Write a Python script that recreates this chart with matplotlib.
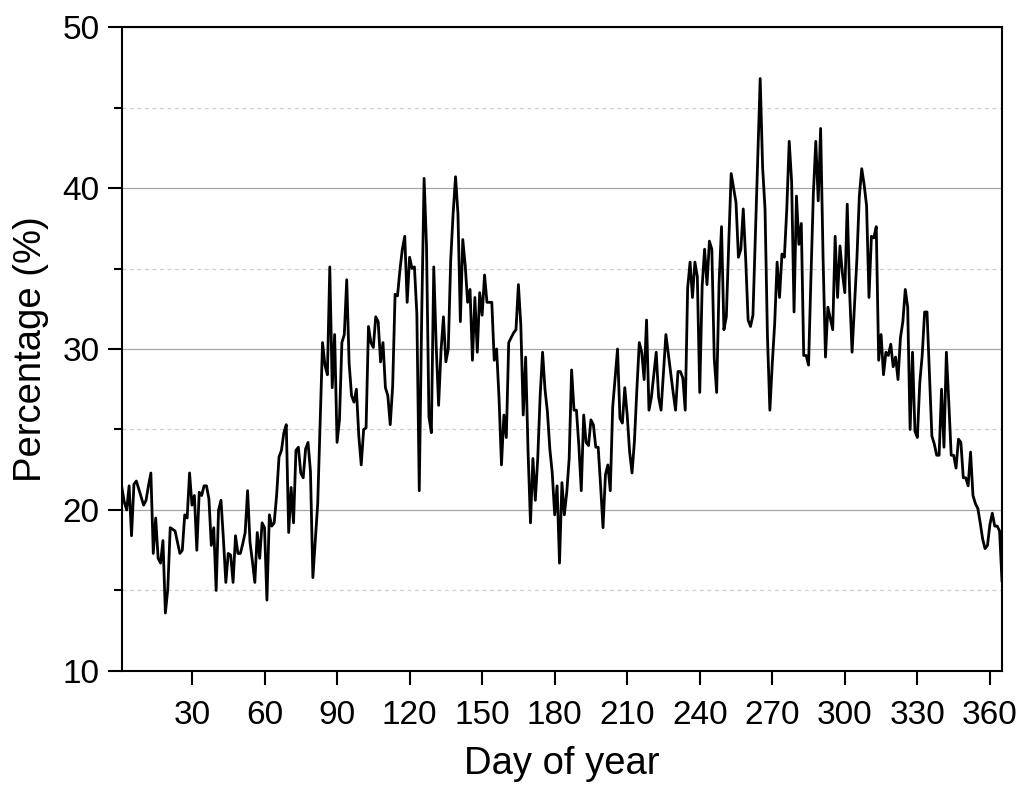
import numpy as np
import matplotlib
matplotlib.use("Agg")
import matplotlib.pyplot as plt
from matplotlib.ticker import MultipleLocator

# daily share (%) for day 1..365
pct = [
    21.4, 20.5, 20.0, 21.5, 18.4, 21.6, 21.8, 21.3, 20.8, 20.3,
    20.6, 21.5, 22.3, 17.3, 19.5, 17.0, 16.7, 18.1, 13.6, 15.1,
    18.9, 18.8, 18.7, 18.0, 17.3, 17.5, 19.7, 19.5, 22.3, 20.3,
    20.9, 17.5, 21.1, 20.9, 21.5, 21.5, 20.7, 17.8, 18.9, 15.0,
    20.0, 20.6, 18.2, 15.5, 17.3, 17.2, 15.5, 18.4, 17.3, 17.3,
    17.9, 18.6, 21.2, 18.0, 16.8, 15.5, 18.6, 17.0, 19.2, 18.9,
    14.4, 19.7, 19.0, 19.2, 20.9, 23.3, 23.7, 24.8, 25.3, 18.6,
    21.4, 19.2, 23.7, 23.9, 22.3, 22.0, 23.8, 24.2, 22.4, 15.8,
    18.1, 20.4, 25.4, 30.4, 29.0, 28.4, 35.1, 27.6, 30.9, 24.2,
    25.6, 30.4, 30.9, 34.3, 29.1, 27.1, 26.7, 27.5, 24.6, 22.8,
    25.0, 25.1, 31.4, 30.4, 30.1, 32.0, 31.7, 29.2, 30.4, 27.6,
    27.1, 25.3, 27.7, 33.4, 33.3, 34.9, 36.2, 37.0, 32.9, 35.7,
    35.0, 35.1, 32.2, 21.2, 32.0, 40.6, 36.4, 25.8, 24.8, 35.1,
    30.2, 26.5, 29.9, 32.0, 29.2, 30.0, 35.5, 38.4, 40.7, 38.4,
    31.7, 36.8, 35.2, 32.9, 33.7, 29.3, 33.2, 29.8, 33.5, 32.1,
    34.6, 32.9, 32.9, 32.9, 29.3, 30.0, 26.9, 22.8, 25.9, 24.5,
    30.4, 30.7, 31.0, 31.2, 34.0, 31.5, 25.9, 29.5, 23.6, 19.2,
    23.2, 20.6, 23.2, 27.1, 29.8, 27.5, 26.1, 23.8, 22.3, 19.7,
    21.5, 16.7, 21.7, 19.7, 21.1, 23.2, 28.7, 26.2, 26.2, 24.0,
    21.2, 25.9, 24.2, 24.0, 25.6, 25.3, 23.9, 23.9, 21.5, 18.9,
    22.2, 22.8, 21.2, 26.4, 28.2, 30.0, 25.7, 25.4, 27.6, 25.9,
    23.6, 22.3, 24.3, 27.5, 30.4, 29.8, 28.1, 31.8, 26.2, 27.0,
    28.4, 29.8, 27.0, 26.2, 28.5, 30.9, 29.7, 28.5, 27.3, 26.2,
    28.6, 28.6, 28.2, 26.2, 33.8, 35.4, 33.2, 35.4, 34.5, 27.3,
    33.9, 36.2, 34.0, 36.7, 36.2, 29.4, 27.3, 34.1, 37.6, 31.2,
    32.0, 36.6, 40.9, 40.0, 39.1, 35.7, 36.2, 38.7, 35.6, 31.8,
    31.4, 32.1, 37.0, 42.0, 46.8, 41.3, 38.7, 30.8, 26.2, 29.1,
    31.6, 35.4, 33.2, 35.9, 35.7, 38.7, 42.9, 40.4, 32.3, 39.5,
    36.5, 37.8, 29.6, 29.6, 29.0, 34.5, 39.7, 42.9, 39.2, 43.7,
    35.7, 29.5, 32.6, 31.9, 31.2, 37.0, 33.2, 36.4, 34.7, 33.5,
    39.0, 33.5, 29.8, 32.7, 35.6, 39.5, 41.2, 40.2, 38.9, 33.2,
    37.0, 36.9, 37.6, 29.3, 30.9, 28.4, 29.8, 29.6, 30.3, 28.9,
    29.5, 28.1, 30.7, 31.7, 33.7, 32.6, 25.0, 29.8, 24.9, 24.5,
    27.9, 29.6, 32.3, 32.3, 28.5, 24.6, 24.1, 23.4, 23.4, 27.5,
    23.9, 29.8, 26.7, 23.4, 23.4, 22.6, 24.4, 24.2, 22.0, 22.0,
    21.5, 23.6, 20.9, 20.4, 20.1, 19.2, 18.2, 17.6, 17.8, 19.1,
    19.8, 19.0, 19.0, 18.7, 15.6,
]
days = np.arange(1, len(pct) + 1)

x_ticks = [30, 60, 90, 120, 150, 180, 210, 240, 270, 300, 330, 360]
y_major = [10, 20, 30, 40, 50]

plt.rcParams['font.family'] = ['Liberation Sans', 'DejaVu Sans']

fig = plt.figure(figsize=(10.24, 7.88), dpi=100)
ax = fig.add_axes([0.119, 0.1485, 0.8595, 0.8172])

ax.plot(days, pct, color='black', lw=2.0, zorder=3)

ax.set_xlim(1, 365)
ax.set_ylim(10, 50)
ax.set_xticks(x_ticks)
ax.set_yticks(y_major)
ax.yaxis.set_minor_locator(MultipleLocator(5))

ax.grid(axis='y', which='major', color='#a6a6a6', lw=0.9, zorder=1)
ax.grid(axis='y', which='minor', color='#cfcfcf', lw=0.9, ls=(0, (3, 3)), zorder=1)

for s in ax.spines.values():
    s.set_linewidth(1.5)
ax.tick_params(axis='both', which='major', direction='out', length=10, width=1.5,
               labelsize=24)
ax.tick_params(axis='x', which='major', pad=11)
ax.tick_params(axis='y', which='major', pad=6)
ax.tick_params(axis='y', which='minor', direction='out', length=6, width=1.5)
ax.tick_params(axis='x', which='minor', length=0)

ax.set_xlabel('Day of year', fontsize=27.5, labelpad=11)
ax.set_ylabel('Percentage (%)', fontsize=27.5, labelpad=10)

fig.savefig('out.png', dpi=100)
